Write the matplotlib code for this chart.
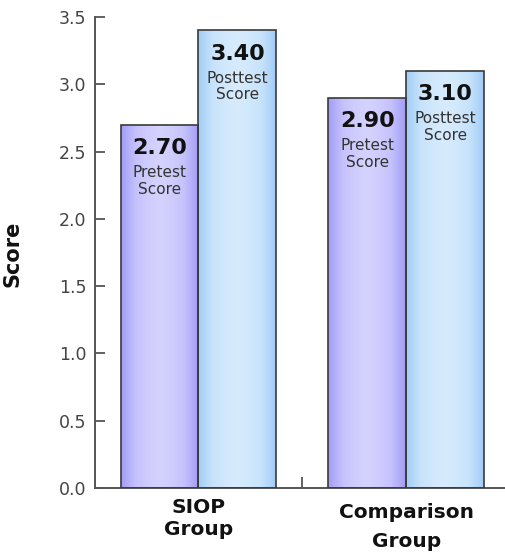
import matplotlib
matplotlib.use('Agg')
import matplotlib.pyplot as plt
import numpy as np
from matplotlib.colors import LinearSegmentedColormap

groups = ["SIOP Group", "Comparison Group"]
pretest = [2.70, 2.90]
posttest = [3.40, 3.10]
series_labels = ["Pretest\nScore", "Posttest\nScore"]
yticks = [0.0, 0.5, 1.0, 1.5, 2.0, 2.5, 3.0, 3.5]
ylabel = "Score"

plt.rcParams['font.family'] = ['DejaVu Sans']

W, H = 505, 557
fig = plt.figure(figsize=(W / 100, H / 100), dpi=100)
ax = fig.add_axes([95 / W, 69 / H, 410 / W, 471 / H])

x = np.arange(len(groups))
w = 0.375

cmap_pre = LinearSegmentedColormap.from_list('pre', ['#d4d2fe', '#c6c2fc', '#a29cf6'])
cmap_post = LinearSegmentedColormap.from_list('post', ['#d6ebfd', '#c8e3fb', '#a0ccf6'])

t = np.linspace(0, 1, 200)
grad = (np.abs(2 * t - 1) ** 1.4)[None, :]

def gbar(xc, h, cmap):
    rect = ax.bar(xc, h, w, facecolor='none', edgecolor='#3a3a3a', linewidth=1.2, zorder=3)[0]
    im = ax.imshow(grad, extent=[xc - w / 2, xc + w / 2, 0, h], aspect='auto', cmap=cmap,
                   vmin=0, vmax=1, zorder=2, interpolation='bilinear')
    im.set_clip_path(rect)
    return rect

for i in range(len(groups)):
    for xc, h, cmap, lab in [(x[i] - w / 2, pretest[i], cmap_pre, series_labels[0]),
                             (x[i] + w / 2, posttest[i], cmap_post, series_labels[1])]:
        gbar(xc, h, cmap)
        ax.annotate(f"{h:.2f}", xy=(xc, h), xytext=(0, -17), textcoords='offset points',
                    ha='center', va='center', fontsize=16, fontweight='bold', color='#111111', zorder=4)
        ax.annotate(lab, xy=(xc, h), xytext=(0, -40.5), textcoords='offset points',
                    ha='center', va='center', fontsize=11, color='#333333', linespacing=1.1, zorder=4)

ax.set_xlim(-0.4976, 1.4736)
ax.set_ylim(0, 3.5)
ax.set_yticks(yticks)
ax.set_yticklabels([f"{v:.1f}" for v in yticks])
ax.set_xticks([0.5])
ax.set_xticklabels([''])

for s in ['top', 'right']:
    ax.spines[s].set_visible(False)
for s in ['left', 'bottom']:
    ax.spines[s].set_color('#555555')
    ax.spines[s].set_linewidth(1.4)

ax.tick_params(axis='y', direction='in', length=7.5, width=1.3, color='#555555',
               labelsize=12.5, labelcolor='#444444', pad=6)
ax.tick_params(axis='x', direction='in', length=8, width=1.3, color='#555555')

ax.set_ylabel(ylabel, fontsize=15, fontweight='bold', color='#111111', labelpad=0)
ax.yaxis.set_label_coords(-72 / 410, (488 - 254) / 471)

# group labels
offsets = [(-14.2, -30.2), (-18.0, -38.7)]
for i, g in enumerate(groups):
    parts = g.split(' ')
    for part, off in zip(parts, offsets[i]):
        ax.annotate(part, xy=(x[i], 0), xycoords=('data', 'axes fraction'),
                    xytext=(0, off), textcoords='offset points', ha='center', va='center',
                    fontsize=14.5, fontweight='bold', color='#111111', annotation_clip=False)

fig.savefig('out.png', dpi=100)
